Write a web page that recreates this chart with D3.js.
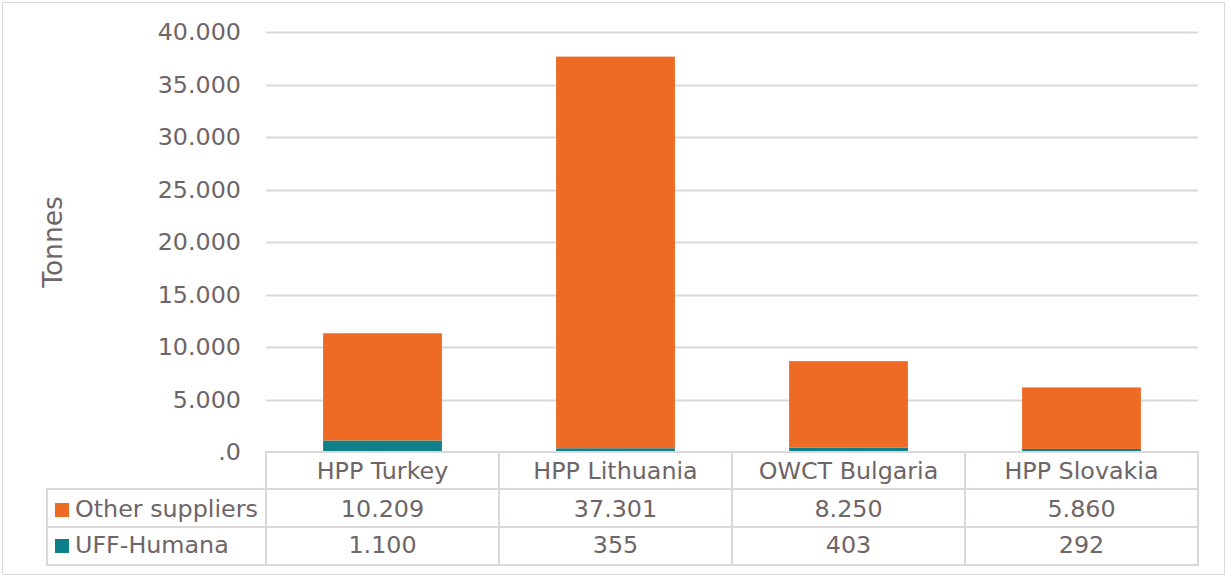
<!DOCTYPE html>
<html>
<head>
<meta charset="utf-8">
<script src="https://cdn.jsdelivr.net/npm/d3@7"></script>
<style>
  html, body { margin: 0; padding: 0; background: #fff; }
  svg { display: block; }
  text { font-family: "DejaVu Sans", Verdana, sans-serif; fill: #6E6567; }
</style>
</head>
<body>
<svg id="chart" width="1227" height="577"></svg>
<script>
const categories = ["HPP Turkey", "HPP Lithuania", "OWCT Bulgaria", "HPP Slovakia"];
const seriesNames = ["UFF-Humana", "Other suppliers"];
const uffHumana = [1100, 355, 403, 292];
const otherSuppliers = [10209, 37301, 8250, 5860];
const tickValues = [0, 5000, 10000, 15000, 20000, 25000, 30000, 35000, 40000];
const tickLabels = [".0", "5.000", "10.000", "15.000", "20.000", "25.000", "30.000", "35.000", "40.000"];
const colors = { "UFF-Humana": "#0F8089", "Other suppliers": "#ED6B24" };

const W = 1227, H = 577;
const plot = { left: 266, right: 1198, top: 32, bottom: 452 };
const table = { left: 47, rowH: [452, 489, 527, 565] };
const gridColor = "#DCD8D9";
const fontSize = 23.8;

const svg = d3.select("#chart");
const locale = d3.formatLocale({ decimal: ",", thousands: ".", grouping: [3], currency: ["", ""] });
const fmt = locale.format(",.0f");

// outer border
svg.append("rect").attr("x", 2.5).attr("y", 2.5).attr("width", W - 5).attr("height", H - 5)
  .attr("fill", "#fff").attr("stroke", "#D9D9D9").attr("stroke-width", 1);

const x = d3.scaleBand().domain(categories).range([plot.left, plot.right]).paddingInner(0.49).paddingOuter(0.245);
const band = d3.scaleBand().domain(categories).range([plot.left, plot.right]);
const y = d3.scaleLinear().domain([0, 40000]).range([plot.bottom, plot.top]);

// gridlines
svg.append("g").selectAll("line").data(tickValues.slice(1)).join("line")
  .attr("x1", plot.left).attr("x2", plot.right)
  .attr("y1", d => Math.round(y(d)) + 0.5).attr("y2", d => Math.round(y(d)) + 0.5)
  .attr("stroke", gridColor).attr("stroke-width", 2);

// y axis labels
const yAxis = d3.axisLeft(y).tickValues(tickValues).tickSize(0).tickPadding(25)
  .tickFormat((d, i) => tickLabels[i]);
const gy = svg.append("g").attr("transform", `translate(${plot.left},0)`).call(yAxis);
gy.select(".domain").remove();
gy.selectAll("text").attr("font-size", fontSize).style("font-family", "DejaVu Sans, Verdana, sans-serif").attr("fill", "#6E6567");

// stacked bars
const rows = categories.map((c, i) => ({ cat: c, "UFF-Humana": uffHumana[i], "Other suppliers": otherSuppliers[i] }));
const stack = d3.stack().keys(seriesNames)(rows);
svg.append("g").selectAll("g").data(stack).join("g")
  .attr("fill", d => colors[d.key])
  .selectAll("rect").data(d => d).join("rect")
  .attr("x", d => x(d.data.cat)).attr("width", x.bandwidth())
  .attr("y", d => y(d[1])).attr("height", d => y(d[0]) - y(d[1]));

// y title
svg.append("text").attr("transform", `translate(62,242) rotate(-90)`)
  .attr("text-anchor", "middle").attr("font-size", 26.5).text("Tonnes");

// data table lines
const tl = svg.append("g").attr("stroke", gridColor).attr("stroke-width", 2);
tl.append("line").attr("x1", plot.left).attr("x2", plot.right).attr("y1", table.rowH[0]).attr("y2", table.rowH[0]);
[1, 2, 3].forEach(k => tl.append("line").attr("x1", table.left).attr("x2", plot.right)
  .attr("y1", table.rowH[k]).attr("y2", table.rowH[k]));
const bounds = categories.map(c => band(c)).concat([plot.right]);
bounds.forEach(b => tl.append("line").attr("x1", b).attr("x2", b).attr("y1", table.rowH[0] - 1).attr("y2", table.rowH[3] + 1));
tl.append("line").attr("x1", table.left).attr("x2", table.left).attr("y1", table.rowH[1] - 1).attr("y2", table.rowH[3] + 1);

// header
svg.append("g").selectAll("text").data(categories).join("text")
  .attr("x", d => band(d) + band.bandwidth() / 2).attr("y", 479)
  .attr("text-anchor", "middle").attr("font-size", fontSize).text(d => d);

// rows
const tableRows = [
  { name: "Other suppliers", values: otherSuppliers, base: 517 },
  { name: "UFF-Humana", values: uffHumana, base: 553 }
];
tableRows.forEach(r => {
  const g = svg.append("g");
  g.append("rect").attr("x", 55).attr("y", r.base - 14).attr("width", 14).attr("height", 14).attr("fill", colors[r.name]);
  g.append("text").attr("x", 75).attr("y", r.base).attr("font-size", fontSize).text(r.name);
  g.selectAll("text.v").data(r.values).join("text").attr("class", "v")
    .attr("x", (d, i) => band(categories[i]) + band.bandwidth() / 2).attr("y", r.base)
    .attr("text-anchor", "middle").attr("font-size", fontSize).text(d => fmt(d));
});
</script>
</body>
</html>
